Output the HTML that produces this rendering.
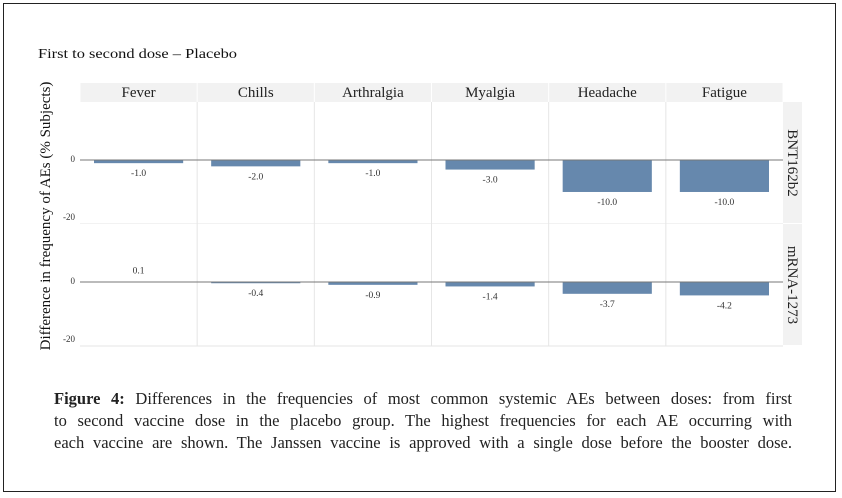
<!DOCTYPE html>
<html><head><meta charset="utf-8"><style>
body{margin:0;width:842px;height:498px;background:#fff;overflow:hidden;font-family:"Liberation Serif",serif}
#frame{position:absolute;left:3px;top:3px;width:833px;height:489px;border:1px solid #222;box-sizing:border-box}
#cap{position:absolute;left:54px;top:388px;width:738px;font-size:16.5px;line-height:22px;color:#222}
#cap div{text-align:justify;text-align-last:justify;white-space:nowrap}
#cap div.last{text-align-last:justify}
</style></head><body>
<div id="frame"></div>
<svg width="842" height="498" style="position:absolute;left:0;top:0" font-family="Liberation Serif, serif">
<text x="38" y="58" font-size="14" textLength="199" lengthAdjust="spacingAndGlyphs" fill="#111">First to second dose – Placebo</text>
<text transform="translate(50,216) rotate(-90)" text-anchor="middle" font-size="15" fill="#111">Difference in frequency of AEs (% Subjects)</text>
<g id="g"></g>
</svg>
<div id="cap">
<div style="white-space:normal"><b>Figure 4:</b> Differences in the frequencies of most common systemic AEs between doses: from first</div>
<div style="white-space:normal">to second vaccine dose in the placebo group. The highest frequencies for each AE occurring with</div>
<div style="white-space:normal">each vaccine are shown. The Janssen vaccine is approved with a single dose before the booster dose.</div>
</div>
<script>
const categories=["Fever","Chills","Arthralgia","Myalgia","Headache","Fatigue"];
const vaccines=["BNT162b2","mRNA-1273"];
const bntValues=[-1.0,-2.0,-1.0,-3.0,-10.0,-10.0];
const mrnaValues=[0.1,-0.4,-0.9,-1.4,-3.7,-4.2];
const valueLabels=[["-1.0","-2.0","-1.0","-3.0","-10.0","-10.0"],["0.1","-0.4","-0.9","-1.4","-3.7","-4.2"]];
const yTicks=[0,-20];
const series=[bntValues,mrnaValues];
const NS="http://www.w3.org/2000/svg";
const g=document.getElementById('g');
function mk(t,a,p){const e=document.createElementNS(NS,t);for(const k in a)e.setAttribute(k,a[k]);(p||g).appendChild(e);return e;}
const X0=80,X1=783,colW=(X1-X0)/6,stripTop=83,stripH=19;
const panelTop=[102,224],panelH=122;
const yMin=-20,yMax=18.1;
function yS(p,v){return panelTop[p]+panelH*(yMax-v)/(yMax-yMin);}
function xS(i){return X0+i*colW;}
categories.forEach((c,i)=>{
 const r=mk('rect',{x:xS(i)+0.5,y:stripTop,width:colW-1,height:stripH,fill:'#f2f2f2'});
 
 
 const t=mk('text',{x:xS(i)+colW/2,y:stripTop+14,'text-anchor':'middle','font-size':15,fill:'#222'});
 t.textContent=c;
 
 
});
vaccines.forEach((v,p)=>{
 const bg=mk('rect',{x:X0,y:panelTop[p],width:X1-X0,height:panelH,fill:'#fff'});
 
 
 for(let i=1;i<6;i++){mk('line',{x1:xS(i),x2:xS(i),y1:panelTop[p],y2:panelTop[p]+panelH,stroke:'#e6e6e6','stroke-width':1});}
 mk('line',{x1:X0,x2:X1,y1:panelTop[p]+panelH,y2:panelTop[p]+panelH,stroke:'#e6e6e6'});
 yTicks.forEach(t=>{
  const tl=mk('text',{x:75,y:yS(p,t)+(t===yMin?-4:2),'text-anchor':'end','font-size':9,fill:'#333'});
  tl.textContent=t;
  
  
 });
 const sr=mk('rect',{x:X1,y:panelTop[p],width:19,height:panelH-1,fill:'#f2f2f2'});
 
 
 const st=mk('text',{transform:`translate(${X1+5},${panelTop[p]+panelH/2}) rotate(90)`,'text-anchor':'middle','font-size':15,fill:'#222'});
 st.textContent=v;
 
 
 series[p].forEach((val,i)=>{
  const y0=yS(p,0),y1=yS(p,val);
  const b=mk('rect',{x:xS(i)+14,y:Math.min(y0,y1),width:colW-28,height:Math.max(Math.abs(y1-y0),0.8),fill:'#6688ad'});
  
  
  const lt=mk('text',{x:xS(i)+colW/2,y:val<0?y1+13:y1-8,'text-anchor':'middle','font-size':9.5,fill:'#333'});
  lt.textContent=valueLabels[p][i];
  
  
 });
 mk('line',{x1:X0,x2:X1,y1:yS(p,0),y2:yS(p,0),stroke:'#777','stroke-width':1});
});
</script>
</body></html>
